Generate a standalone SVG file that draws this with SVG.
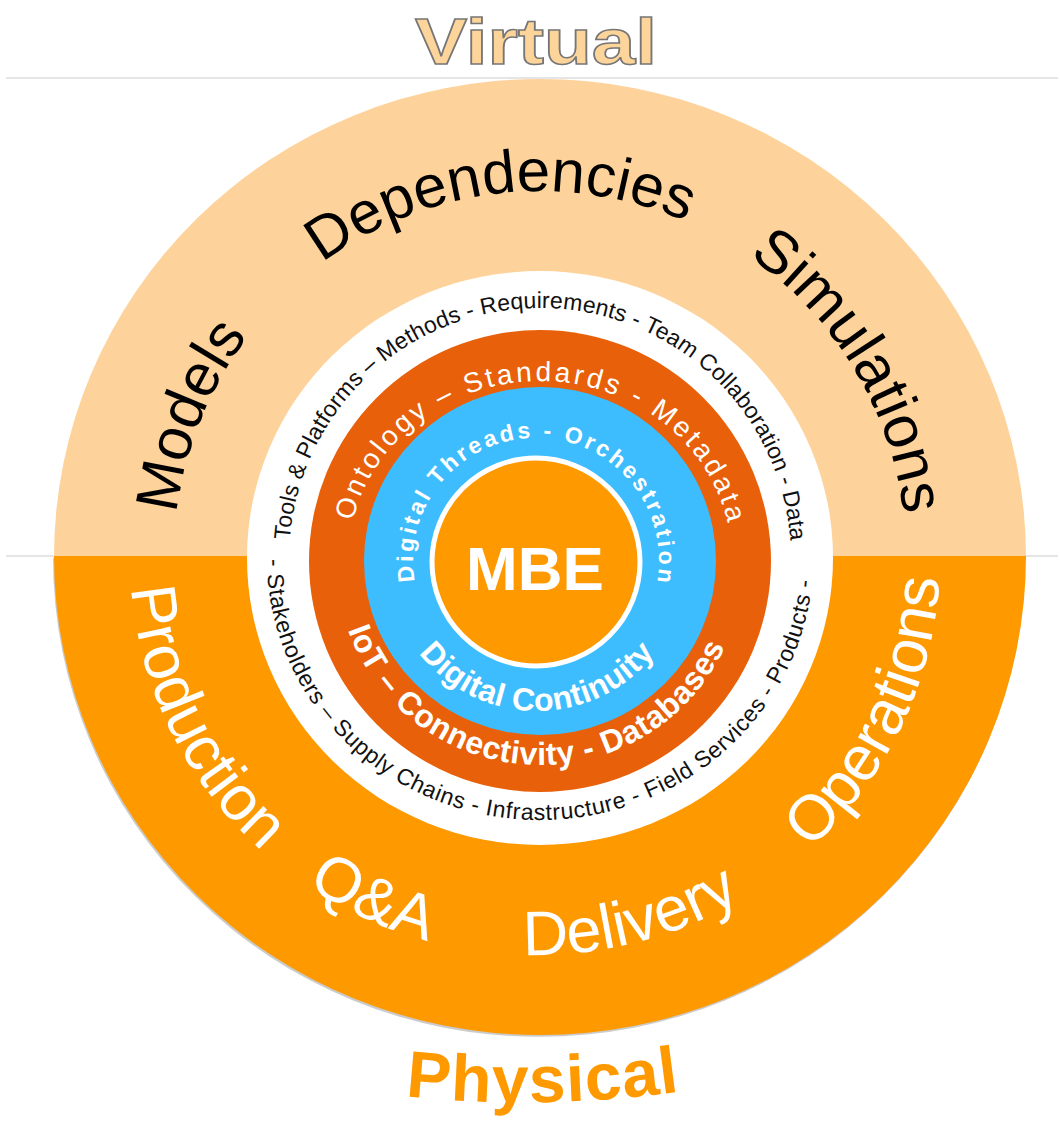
<svg xmlns="http://www.w3.org/2000/svg" width="1060" height="1124" viewBox="0 0 1060 1124">
<style>
text{font-family:"Liberation Sans",Arial,sans-serif}
.ring{font-size:23px;fill:#111}
.word-top{font-size:60px;fill:#000}
.word-bot{font-size:63px;fill:#fff}
.band{fill:#fff}
</style>
<defs>
<path id="pWhiteTop" d="M 289 559 A 251 251 0 0 1 791 559"/>
<path id="pWhiteBot" d="M 267 559 A 273 261 0 0 0 813 559"/>
<path id="pOrTop" d="M 348 561 A 192 180 0 0 1 732 561"/>
<path id="pOrBot" d="M 336 561 A 204 204 0 0 0 744 561"/>
<path id="pBlueTop" d="M 414.9 582.4 A 123 123 0 1 1 657.1 582.4"/>
<path id="pBlueBot" d="M 387 561 A 150 150 0 0 0 687 561"/>
<path id="pWordsTop" d="M 174 557 A 366 366 0 0 1 906 557"/>
<path id="pWordsBot" d="M 130 557 A 405 398 0 0 0 940 557"/>
<path id="pPhysical" d="M 395 1095 Q 542 1112 690 1090"/>
</defs>

<g id="guides" stroke="#cccccc" stroke-width="1.2">
<line x1="6" y1="78" x2="1058" y2="78"/>
<line x1="6" y1="556" x2="1058" y2="556"/>
</g>

<g id="outer-ring">
<path d="M 53 558 A 486 479 0 0 0 1025 558 Z" fill="#b5b5b5" opacity="0.7"/>
<path d="M 54 557 A 486 478 0 0 1 1026 557 Z" fill="#FDD39B"/>
<path d="M 54 556 A 486 479 0 0 0 1026 556 Z" fill="#FF9900"/>
</g>

<g id="white-ring">
<ellipse cx="540" cy="558" rx="293" ry="287" fill="#ffffff"/>
</g>
<g id="standards-ring">
<circle cx="540" cy="561" r="231" fill="#E8600A"/>
</g>
<g id="threads-ring">
<ellipse cx="540" cy="561" rx="176" ry="174" fill="#3DBDFE"/>
</g>
<g id="mbe">
<circle cx="536" cy="562" r="104" fill="#FF9900" stroke="#ffffff" stroke-width="5"/>
<text x="535" y="590" text-anchor="middle" font-size="62" font-weight="bold" fill="#fff">MBE</text>
</g>

<g id="ring-texts">
<text class="ring"><textPath href="#pWhiteTop" startOffset="19" textLength="751" lengthAdjust="spacing">Tools &amp; Platforms – Methods - Requirements - Team Collaboration - Data</textPath></text>
<text class="ring"><textPath href="#pWhiteBot" startOffset="0" textLength="817" lengthAdjust="spacing">-  Stakeholders – Supply Chains - Infrastructure - Field Services - Products  -</textPath></text>
<text class="band" font-size="28"><textPath href="#pOrTop" startOffset="40" textLength="506" lengthAdjust="spacing">Ontology – Standards - Metadata</textPath></text>
<text class="band" font-size="32" font-weight="bold"><textPath href="#pOrBot" startOffset="70" textLength="482" lengthAdjust="spacing">IoT – Connectivity - Databases</textPath></text>
<text class="band" font-size="23" font-weight="bold"><textPath href="#pBlueTop" startOffset="1" textLength="428" lengthAdjust="spacing">Digital Threads - Orchestration</textPath></text>
<text class="band" font-size="32" font-weight="bold" text-anchor="middle"><textPath href="#pBlueBot" startOffset="50%" textLength="272" lengthAdjust="spacing">Digital Continuity</textPath></text>
</g>

<g id="virtual-words">
<text class="word-top" text-anchor="middle"><textPath href="#pWordsTop" startOffset="12.2%">Models</textPath></text>
<text class="word-top" text-anchor="middle"><textPath href="#pWordsTop" startOffset="46.4%">Dependencies</textPath></text>
<text class="word-top" text-anchor="middle"><textPath href="#pWordsTop" startOffset="82.8%">Simulations</textPath></text>
</g>
<g id="physical-words">
<text class="word-bot" text-anchor="middle"><textPath href="#pWordsBot" startOffset="14.4%">Production</textPath></text>
<text class="word-bot" text-anchor="middle"><textPath href="#pWordsBot" startOffset="36.1%">Q&amp;A</textPath></text>
<text class="word-bot" text-anchor="middle"><textPath href="#pWordsBot" startOffset="58.1%">Delivery</textPath></text>
<text class="word-bot" text-anchor="middle"><textPath href="#pWordsBot" startOffset="86.1%">Operations</textPath></text>
</g>

<g id="title-virtual">
<text x="536" y="64" text-anchor="middle" font-size="64" font-weight="bold" fill="#FDD49A" stroke="#767676" stroke-width="1.5" textLength="242" lengthAdjust="spacingAndGlyphs">Virtual</text>
</g>
<g id="title-physical">
<text font-size="66" font-weight="bold" fill="#FF9900" text-anchor="middle"><textPath href="#pPhysical" startOffset="50%" textLength="275" lengthAdjust="spacing">Physical</textPath></text>
</g>
</svg>
